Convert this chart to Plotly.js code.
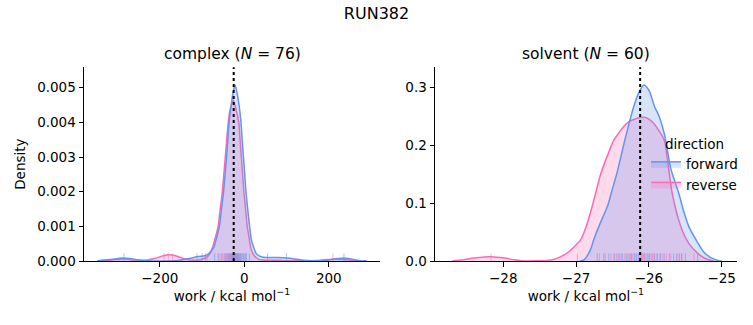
<!DOCTYPE html>
<html>
<head>
<meta charset="utf-8">
<script src="https://cdn.plot.ly/plotly-3.0.1.min.js"></script>
<style>html,body{margin:0;padding:0;background:#fff;}#plot{width:753px;height:325px;}</style>
</head>
<body>
<div id="plot"></div>
<script>
// ---- data ----
const directions = ["forward", "reverse"];
const panelTitles = ["complex (<i>N</i> = 76)", "solvent (<i>N</i> = 60)"];
const estimates = [-25.1, -26.12];

// complex: KDE curves (work, density)
const complexFwdX = [-348,-320,-300,-285,-270,-250,-230,-200,-170,-150,-130,-112,-100,-93,-85,-78,-72,-65,-59,-54,-49,-45.5,-42,-39,-36,-31,-26,-22,-18,-12.4,-7.8,-5,-2,1,4,8,12.5,17,22,28,35,45,60,80,100,120,140,160,180,200,220,236,255,275,290];
const complexFwdY = [0.00001,0.00004,0.00007,0.00009,0.00007,0.00003,0.00001,0.000003,0.00001,0.00003,0.00007,0.00012,0.00014,0.00015,0.0002,0.0003,0.0004,0.0007,0.001,0.0015,0.002,0.0025,0.003,0.0035,0.004,0.0045,0.0049,0.00508,0.0049,0.0045,0.004,0.0035,0.003,0.0025,0.002,0.0015,0.001,0.0006,0.0004,0.00022,0.00015,0.00011,0.0001,0.0001,0.00009,0.00006,0.00002,0.000005,0.00001,0.00003,0.00007,0.00009,0.00005,0.00001,0];
const complexRevX = [-348,-320,-300,-285,-270,-250,-230,-210,-195,-180,-165,-150,-135,-120,-108,-98,-90,-82,-75,-68,-62,-57,-52,-48.5,-45,-41.5,-38,-33,-26,-20,-13,-10,-7,-4,-1,3,7,11,15,21,28,36,50,80,100,130,160,180,195,210,225,245,265,290];
const complexRevY = [0.000005,0.00002,0.00004,0.00006,0.00004,0.00002,0.00003,0.00008,0.00014,0.00018,0.00016,0.0001,0.00004,0.00002,0.00003,0.00006,0.0001,0.0002,0.0004,0.0007,0.001,0.0015,0.002,0.0025,0.003,0.0035,0.004,0.0044,0.00464,0.0044,0.004,0.0035,0.003,0.0025,0.002,0.0015,0.001,0.0007,0.0004,0.0002,0.0001,0.00004,0.00002,0.00002,0.00001,0.00001,0.00001,0.00002,0.00004,0.00006,0.00005,0.00003,0.00001,0];

// solvent: KDE curves
const solventFwdX = [-26.95,-26.89,-26.8,-26.76,-26.67,-26.57,-26.5,-26.44,-26.33,-26.21,-26.13,-26.07,-26.0,-25.92,-25.86,-25.78,-25.7,-25.59,-25.52,-25.45,-25.34,-25.25,-25.15,-25.05,-25.0];
const solventFwdY = [0,0.002,0.02,0.036,0.065,0.094,0.125,0.151,0.209,0.266,0.293,0.304,0.295,0.266,0.25,0.215,0.16,0.117,0.085,0.059,0.034,0.016,0.006,0.001,0];
const solventRevX = [-28.7,-28.55,-28.4,-28.17,-27.98,-27.85,-27.76,-27.55,-27.4,-27.3,-27.21,-27.1,-27.0,-26.94,-26.86,-26.78,-26.66,-26.56,-26.48,-26.3,-26.15,-26.05,-25.95,-25.9,-25.79,-25.74,-25.68,-25.56,-25.45,-25.3,-25.2,-25.11];
const solventRevY = [0,0.002,0.005,0.0075,0.005,0.002,0.0005,0.0003,0.001,0.003,0.0075,0.016,0.028,0.036,0.06,0.094,0.151,0.185,0.209,0.238,0.247,0.248,0.24,0.232,0.209,0.17,0.117,0.059,0.03,0.01,0.003,0];

// rug samples
const complexFwdRug = [-285,-112,-100,-92,-70,-62,-55,-48,-44,-40,-37,-34,-31,-29,-27,-25,-24,-22,-20,-18,-16,-14,-12,-9,-6,-3,1,5,12,55,100,236];
const complexRevRug = [-190,-180,-170,-88,-60,-52,-46,-42,-38,-35,-33,-30,-28,-26,-25,-24,-23,-21,-19,-17,-15,-13,-10,-7,-2,3,210];
const solventFwdRug = [-26.71,-26.62,-26.55,-26.48,-26.44,-26.4,-26.36,-26.31,-26.27,-26.24,-26.2,-26.17,-26.14,-26.1,-26.07,-26.04,-26.0,-25.97,-25.93,-25.89,-25.84,-25.79,-25.72,-25.66,-25.62,-25.58,-25.55,-25.5,-25.33];
const solventRevRug = [-28.17,-26.98,-26.68,-26.6,-26.52,-26.47,-26.42,-26.38,-26.33,-26.29,-26.25,-26.22,-26.19,-26.15,-26.12,-26.09,-26.06,-26.02,-25.99,-25.95,-25.92,-25.88,-25.85,-25.81,-25.76,-25.7,-25.6,-25.55,-25.38];

// ---- styling ----
const lineCol = {forward: "rgb(100,149,237)", reverse: "rgb(255,105,180)"};
const fillCol = {forward: "rgba(100,149,237,0.25)", reverse: "rgba(255,105,180,0.25)"};
const rugCol = {forward: "rgba(100,149,237,0.55)", reverse: "rgba(255,105,180,0.55)"};
const FONT = "DejaVu Sans, sans-serif";

const panels = [
  {xa: "x", ya: "y", curves: {forward: [complexFwdX, complexFwdY], reverse: [complexRevX, complexRevY]}, rugs: {forward: complexFwdRug, reverse: complexRevRug}, legend: false},
  {xa: "x2", ya: "y2", curves: {forward: [solventFwdX, solventFwdY], reverse: [solventRevX, solventRevY]}, rugs: {forward: solventFwdRug, reverse: solventRevRug}, legend: true}
];

// draw reverse first so forward lies on top (as in the reference), legend still forward first
const drawOrder = directions.slice().reverse();
const traces = [];
panels.forEach(p => {
  drawOrder.forEach(d => {
    traces.push({
      type: "scatter", mode: "lines", x: p.curves[d][0], y: p.curves[d][1],
      xaxis: p.xa, yaxis: p.ya, name: d, legendgroup: d, showlegend: p.legend,
      legendrank: 1000 + directions.indexOf(d),
      fill: "tozeroy", fillcolor: fillCol[d],
      line: {color: lineCol[d], width: 1.5, shape: "spline", smoothing: 0.7},
      hoverinfo: "skip"
    });
  });
  drawOrder.forEach(d => {
    traces.push({
      type: "scatter", mode: "markers", x: p.rugs[d], y: p.rugs[d].map(() => 0),
      xaxis: p.xa, yaxis: p.ya, showlegend: false, cliponaxis: true,
      marker: {symbol: "line-ns", size: 11, line: {color: rugCol[d], width: 1}},
      hoverinfo: "skip"
    });
  });
});

const axBase = {
  showgrid: false, zeroline: false, showline: true, linecolor: "black", linewidth: 1,
  ticks: "outside", ticklen: 4.5, tickwidth: 1, tickcolor: "black",
  tickfont: {family: FONT, size: 13.5, color: "black"}, automargin: false, mirror: false
};
const xTitle = {text: "work / kcal mol<sup>−1</sup>", font: {family: FONT, size: 13.5, color: "black"}, standoff: 6};

const layout = {
  width: 753, height: 325,
  margin: {l: 0, r: 0, t: 0, b: 0},
  paper_bgcolor: "white", plot_bgcolor: "white",
  font: {family: FONT, color: "black"},
  title: {text: "RUN382", x: 0.5, xanchor: "center", y: 1 - 13/325, yanchor: "middle", yref: "paper", font: {family: FONT, size: 16, color: "black"}},
  xaxis: Object.assign({}, axBase, {domain: [84/753, 380/753], range: [-379.4, 321.2], tickvals: [-200, 0, 200], anchor: "y", title: xTitle}),
  yaxis: Object.assign({}, axBase, {domain: [64/325, 257.7/325], range: [0, 0.00559], tickvals: [0, 0.001, 0.002, 0.003, 0.004, 0.005], tickformat: ".3f", anchor: "x",
    title: {text: "Density", font: {family: FONT, size: 13.5, color: "black"}, standoff: 8}}),
  xaxis2: Object.assign({}, axBase, {domain: [435/753, 736.7/753], range: [-28.938, -24.794], tickvals: [-28, -27, -26, -25], anchor: "y2", title: xTitle}),
  yaxis2: Object.assign({}, axBase, {domain: [64/325, 257.7/325], range: [0, 0.3345], tickvals: [0, 0.1, 0.2, 0.3], tickformat: ".1f", anchor: "x2"}),
  showlegend: true,
  legend: {
    x: 646/753, xanchor: "left", y: 1 - 131/325, yanchor: "top",
    bgcolor: "rgba(0,0,0,0)", borderwidth: 0, traceorder: "normal",
    font: {family: FONT, size: 13.5, color: "black"},
    title: {text: "direction", side: "top center", font: {family: FONT, size: 13.5, color: "black"}},
    itemwidth: 30, tracegroupgap: 0
  },
  annotations: panelTitles.map((t, i) => ({
    text: t, xref: (i === 0 ? "x" : "x2") + " domain", x: 0.5, xanchor: "center",
    yref: "paper", y: 1 - 54/325, yanchor: "middle", showarrow: false,
    font: {family: FONT, size: 15.5, color: "black"}
  })),
  shapes: estimates.map((v, i) => ({
    type: "line", xref: i === 0 ? "x" : "x2", yref: (i === 0 ? "y" : "y2") + " domain",
    x0: v, x1: v, y0: 0, y1: 1, line: {color: "black", width: 2, dash: "dot"}
  }))
};

Plotly.newPlot("plot", traces, layout, {staticPlot: true, displayModeBar: false});
</script>
</body>
</html>
